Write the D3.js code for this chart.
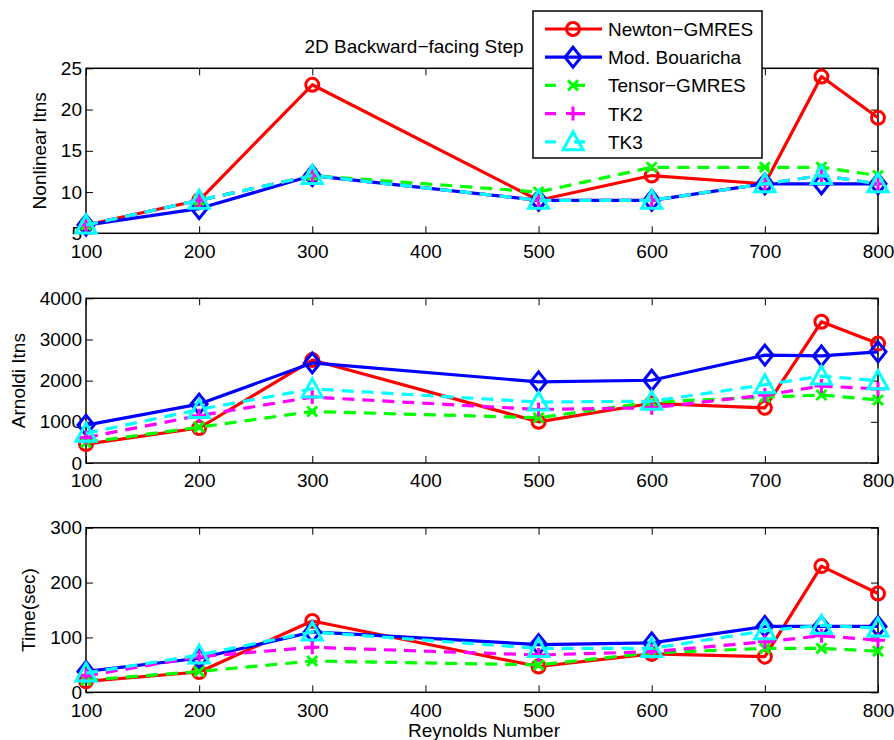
<!DOCTYPE html>
<html>
<head>
<meta charset="utf-8">
<script src="https://cdn.jsdelivr.net/npm/d3@7"></script>
<style>
  html, body { margin: 0; padding: 0; background: #fff; }
  svg { display: block; font-family: "Liberation Sans", Arial, Helvetica, sans-serif; }
</style>
</head>
<body>
<svg id="chart" width="894" height="740"></svg>
<script>
// Reynolds numbers shared by all three panels
const reynolds = [100, 200, 300, 500, 600, 700, 750, 800];
const xTicks = [100, 200, 300, 400, 500, 600, 700, 800];

// Solver names, in plotting order
const solverNames = ["Newton\u2212GMRES", "Mod. Bouaricha", "Tensor\u2212GMRES", "TK2", "TK3"];

// Nonlinear iterations, one row per solver
const nonlinearItns = [
  [6, 9, 23, 9, 12, 11, 24, 19],
  [6, 8, 12, 9, 9, 11, 11, 11],
  [6, 9, 12, 10, 13, 13, 13, 12],
  [6, 9, 12, 9, 9, 11, 12, 11],
  [6, 9, 12, 9, 9, 11, 12, 11]
];
const nonlinearTicks = [5, 10, 15, 20, 25];

// Arnoldi iterations
const arnoldiItns = [
  [460, 850, 2500, 1000, 1450, 1340, 3430, 2900],
  [920, 1430, 2430, 1970, 2010, 2620, 2600, 2700],
  [500, 870, 1250, 1100, 1480, 1600, 1650, 1530],
  [620, 1150, 1600, 1300, 1340, 1650, 1870, 1800],
  [720, 1300, 1800, 1480, 1500, 1900, 2110, 2000]
];
const arnoldiTicks = [0, 1000, 2000, 3000, 4000];

// Wall-clock time in seconds
const timeSec = [
  [20, 37, 130, 47, 70, 65, 230, 180],
  [38, 62, 110, 87, 90, 120, 120, 120],
  [22, 38, 57, 50, 72, 80, 80, 75],
  [30, 65, 82, 68, 74, 92, 103, 95],
  [35, 68, 110, 80, 80, 112, 122, 117]
];
const timeTicks = [0, 100, 200, 300];

// Styling per solver
const colors = ["#ff0000", "#0000ff", "#00ff00", "#ff00ff", "#00ffff"];
const dashes = [null, null, "12,8", "12,8", "12,8"];
const markers = ["circle", "diamond", "x", "plus", "triangle"];

const svg = d3.select("#chart");
const x = d3.scaleLinear().domain([100, 800]).range([86, 878]);
const fmt = d3.format("d");

function markerPath(type) {
  switch (type) {
    case "circle": {
      const p = d3.path(); p.arc(0, 0, 6.5, 0, 2 * Math.PI); return p.toString();
    }
    case "diamond": return "M0,-10L8,0L0,10L-8,0Z";
    case "x": return "M-5,-5L5,5M-5,5L5,-5";
    case "plus": return "M-7,0L7,0M0,-7L0,7";
    case "triangle": return "M0,-10L10,8L-10,8Z";
  }
}

function drawPanel(top, bottom, yDomain, yTicks, data, label, labelX) {
  const y = d3.scaleLinear().domain(yDomain).range([bottom, top]);
  const g = svg.append("g");

  // Plot box
  g.append("rect")
    .attr("x", x.range()[0]).attr("y", top)
    .attr("width", x.range()[1] - x.range()[0]).attr("height", bottom - top)
    .attr("fill", "none").attr("stroke", "#000").attr("stroke-width", 1.5);

  // Axes with inward ticks, mirrored on the opposite sides
  const axB = d3.axisBottom(x).tickValues(xTicks).tickFormat(fmt).tickSizeInner(-7).tickSizeOuter(0).tickPadding(11);
  const axT = d3.axisTop(x).tickValues(xTicks).tickSizeInner(-7).tickSizeOuter(0).tickFormat("");
  const axL = d3.axisLeft(y).tickValues(yTicks).tickFormat(fmt).tickSizeInner(-7).tickSizeOuter(0).tickPadding(4);
  const axR = d3.axisRight(y).tickValues(yTicks).tickSizeInner(-7).tickSizeOuter(0).tickFormat("");

  [[axB, `translate(0,${bottom})`], [axT, `translate(0,${top})`],
   [axL, `translate(${x.range()[0]},0)`], [axR, `translate(${x.range()[1]},0)`]]
    .forEach(([ax, tr]) => {
      const a = g.append("g").attr("transform", tr).call(ax);
      a.select(".domain").remove();
      a.selectAll(".tick line").attr("stroke", "#000").attr("stroke-width", 1);
      a.selectAll("text").attr("font-size", 19).attr("fill", "#000")
        .attr("font-family", "'Liberation Sans', Arial, sans-serif");
    });

  // Y label
  g.append("text")
    .attr("transform", `translate(${labelX},${(top + bottom) / 2}) rotate(-90)`)
    .attr("text-anchor", "middle").attr("font-size", 19).attr("fill", "#000")
    .text(label);

  const line = d3.line().x((d, i) => x(reynolds[i])).y(d => y(d));

  data.forEach((vals, s) => {
    const sg = g.append("g");
    sg.append("path").datum(vals)
      .attr("d", line).attr("fill", "none")
      .attr("stroke", colors[s]).attr("stroke-width", 3.2)
      .attr("stroke-dasharray", dashes[s])
      .attr("stroke-linejoin", "round");
    sg.selectAll("path.mk").data(vals).enter().append("path")
      .attr("class", "mk")
      .attr("transform", (d, i) => `translate(${x(reynolds[i])},${y(d)})`)
      .attr("d", markerPath(markers[s]))
      .attr("fill", "none").attr("stroke", colors[s]).attr("stroke-width", 3);
  });
}

drawPanel(68.3, 233.3, [5, 25], nonlinearTicks, nonlinearItns, "Nonlinear Itns", 46);
drawPanel(298.3, 463, [0, 4000], arnoldiTicks, arnoldiItns, "Arnoldi Itns", 25);
drawPanel(527.7, 692.3, [0, 300], timeTicks, timeSec, "Time(sec)", 35);

// Title and x label
svg.append("text").attr("x", 414).attr("y", 53).attr("text-anchor", "middle")
  .attr("font-size", 19).attr("fill", "#000").text("2D Backward\u2212facing Step");
svg.append("text").attr("x", 484).attr("y", 737).attr("text-anchor", "middle")
  .attr("font-size", 19).attr("fill", "#000").text("Reynolds Number");

// Legend
const lg = svg.append("g");
lg.append("rect").attr("x", 533).attr("y", 11).attr("width", 229).attr("height", 147)
  .attr("fill", "#fff").attr("stroke", "#000").attr("stroke-width", 1.5);
solverNames.forEach((name, s) => {
  const cy = 29 + s * 28.2;
  lg.append("line").attr("x1", 545).attr("x2", 602).attr("y1", cy).attr("y2", cy)
    .attr("stroke", colors[s]).attr("stroke-width", 3.2)
    .attr("stroke-dasharray", dashes[s] ? "11,18" : null);
  lg.append("path").attr("transform", `translate(573,${cy})`)
    .attr("d", markerPath(markers[s]))
    .attr("fill", "none").attr("stroke", colors[s]).attr("stroke-width", 3);
  lg.append("text").attr("x", 608).attr("y", cy + 7).attr("font-size", 19)
    .attr("fill", "#000").text(name);
});
</script>
</body>
</html>
